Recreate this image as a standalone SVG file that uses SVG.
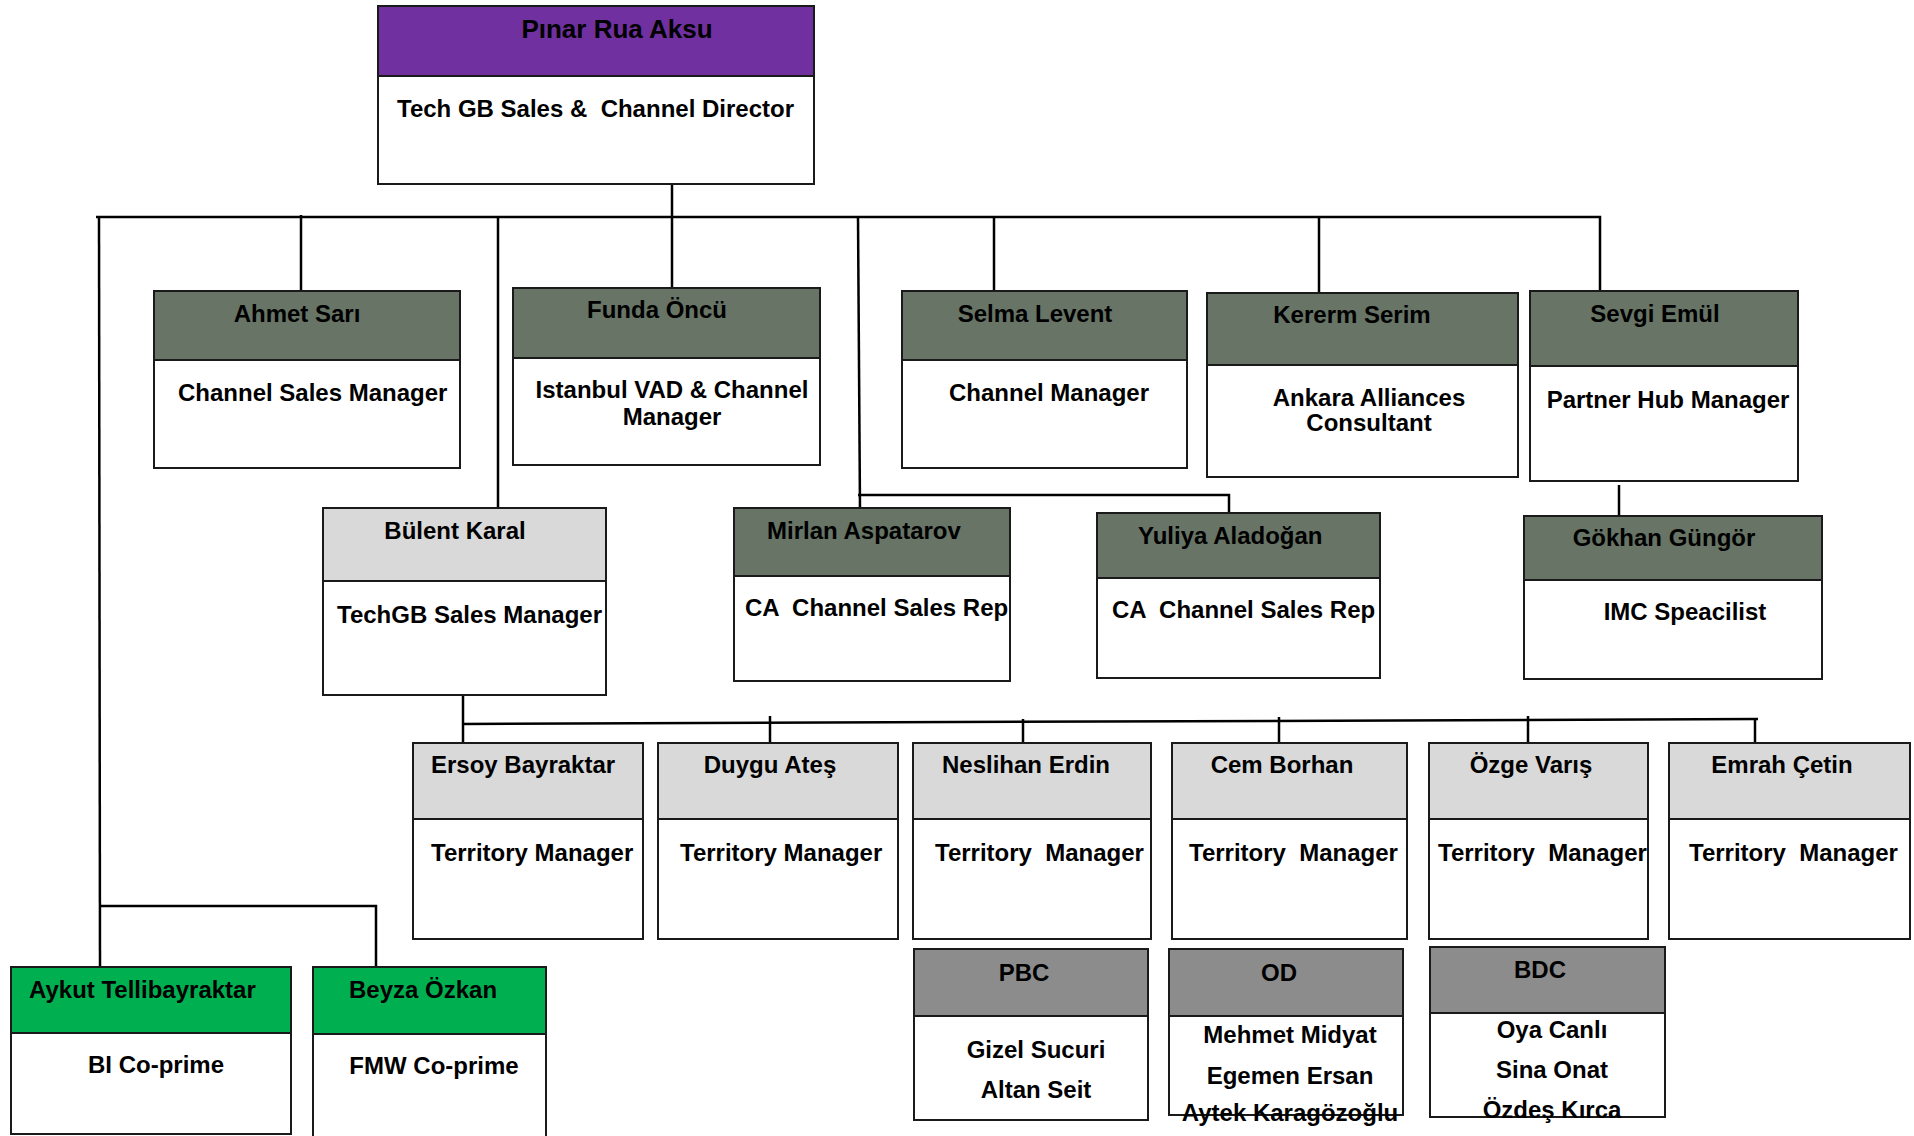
<svg xmlns="http://www.w3.org/2000/svg" width="1914" height="1136" viewBox="0 0 1914 1136">
<style>
text{font-family:"Liberation Sans",Arial,sans-serif;font-weight:bold;font-size:24px;fill:#000}
.m{text-anchor:middle}
.big{font-size:26px}
.box{fill:#fff;stroke:#1a1a1a;stroke-width:2}
.hd{stroke:#1a1a1a;stroke-width:2}
.purple{fill:#7030A0}
.olive{fill:#677466}
.lgrey{fill:#D9D9D9}
.mgrey{fill:#8C8C8C}
.green{fill:#00B050}
.conn line,.conn polyline{stroke:#000;stroke-width:2.5;fill:none}
</style>
<rect width="1914" height="1136" fill="#fff"/>
<g id="connectors" class="conn">
<line x1="672" y1="184" x2="672" y2="288"/>
<polyline points="96,217 1600,217 1600,291"/>
<line x1="301" y1="215" x2="301" y2="291"/>
<line x1="99" y1="217" x2="100" y2="967"/>
<polyline points="100,906 376,906 376,966"/>
<line x1="498" y1="217" x2="498" y2="508"/>
<line x1="858" y1="217" x2="860" y2="510"/>
<polyline points="858,495 1229,495 1229,513"/>
<line x1="994" y1="217" x2="994" y2="291"/>
<line x1="1319" y1="217" x2="1319" y2="293"/>
<line x1="1619" y1="485" x2="1619" y2="516"/>
<line x1="463" y1="695" x2="463" y2="745"/>
<line x1="463" y1="724" x2="1758" y2="719"/>
<line x1="770" y1="716" x2="770" y2="743"/>
<line x1="1023" y1="719" x2="1023" y2="743"/>
<line x1="1279" y1="717" x2="1279" y2="743"/>
<line x1="1528" y1="716" x2="1528" y2="743"/>
<line x1="1755" y1="719" x2="1755" y2="743"/>
</g>
<g id="pinar">
<rect class="box" x="378" y="6" width="436" height="178"/>
<rect class="hd purple" x="378" y="6" width="436" height="70"/>
<text class="m big" x="617" y="38">Pınar Rua Aksu</text>
<text x="397" y="117" xml:space="preserve">Tech GB Sales &amp;  Channel Director</text>
</g>
<g id="ahmet">
<rect class="box" x="154" y="291" width="306" height="177"/>
<rect class="hd olive" x="154" y="291" width="306" height="69"/>
<text class="m" x="297" y="322">Ahmet Sarı</text>
<text x="178" y="401">Channel Sales Manager</text>
</g>
<g id="funda">
<rect class="box" x="513" y="288" width="307" height="177"/>
<rect class="hd olive" x="513" y="288" width="307" height="70"/>
<text class="m" x="657" y="318">Funda Öncü</text>
<text class="m" x="672" y="398">Istanbul VAD &amp; Channel</text>
<text class="m" x="672" y="425">Manager</text>
</g>
<g id="selma">
<rect class="box" x="902" y="291" width="285" height="177"/>
<rect class="hd olive" x="902" y="291" width="285" height="69"/>
<text class="m" x="1035" y="322">Selma Levent</text>
<text class="m" x="1049" y="401">Channel Manager</text>
</g>
<g id="kererm">
<rect class="box" x="1207" y="293" width="311" height="184"/>
<rect class="hd olive" x="1207" y="293" width="311" height="72"/>
<text class="m" x="1352" y="323">Kererm Serim</text>
<text class="m" x="1369" y="406">Ankara Alliances</text>
<text class="m" x="1369" y="431">Consultant</text>
</g>
<g id="sevgi">
<rect class="box" x="1530" y="291" width="268" height="190"/>
<rect class="hd olive" x="1530" y="291" width="268" height="75"/>
<text class="m" x="1655" y="322">Sevgi Emül</text>
<text class="m" x="1668" y="408">Partner Hub Manager</text>
</g>
<g id="bulent">
<rect class="box" x="323" y="508" width="283" height="187"/>
<rect class="hd lgrey" x="323" y="508" width="283" height="73"/>
<text class="m" x="455" y="539">Bülent Karal</text>
<text x="337" y="623">TechGB Sales Manager</text>
</g>
<g id="mirlan">
<rect class="box" x="734" y="508" width="276" height="173"/>
<rect class="hd olive" x="734" y="508" width="276" height="68"/>
<text x="767" y="539">Mirlan Aspatarov</text>
<text x="745" y="616" xml:space="preserve">CA  Channel Sales Rep</text>
</g>
<g id="yuliya">
<rect class="box" x="1097" y="513" width="283" height="165"/>
<rect class="hd olive" x="1097" y="513" width="283" height="65"/>
<text x="1138" y="544">Yuliya Aladoğan</text>
<text x="1112" y="618" xml:space="preserve">CA  Channel Sales Rep</text>
</g>
<g id="gokhan">
<rect class="box" x="1524" y="516" width="298" height="163"/>
<rect class="hd olive" x="1524" y="516" width="298" height="64"/>
<text class="m" x="1664" y="546">Gökhan Güngör</text>
<text class="m" x="1685" y="620">IMC Speacilist</text>
</g>
<g id="ersoy">
<rect class="box" x="413" y="743" width="230" height="196"/>
<rect class="hd lgrey" x="413" y="743" width="230" height="76"/>
<text x="431" y="773">Ersoy Bayraktar</text>
<text x="431" y="861">Territory Manager</text>
</g>
<g id="duygu">
<rect class="box" x="658" y="743" width="240" height="196"/>
<rect class="hd lgrey" x="658" y="743" width="240" height="76"/>
<text class="m" x="770" y="773">Duygu Ateş</text>
<text x="680" y="861">Territory Manager</text>
</g>
<g id="neslihan">
<rect class="box" x="913" y="743" width="238" height="196"/>
<rect class="hd lgrey" x="913" y="743" width="238" height="76"/>
<text class="m" x="1026" y="773">Neslihan Erdin</text>
<text x="935" y="861" xml:space="preserve">Territory  Manager</text>
</g>
<g id="cem">
<rect class="box" x="1172" y="743" width="235" height="196"/>
<rect class="hd lgrey" x="1172" y="743" width="235" height="76"/>
<text class="m" x="1282" y="773">Cem Borhan</text>
<text x="1189" y="861" xml:space="preserve">Territory  Manager</text>
</g>
<g id="ozge">
<rect class="box" x="1429" y="743" width="219" height="196"/>
<rect class="hd lgrey" x="1429" y="743" width="219" height="76"/>
<text class="m" x="1531" y="773">Özge Varış</text>
<text x="1438" y="861" xml:space="preserve">Territory  Manager</text>
</g>
<g id="emrah">
<rect class="box" x="1669" y="743" width="241" height="196"/>
<rect class="hd lgrey" x="1669" y="743" width="241" height="76"/>
<text class="m" x="1782" y="773">Emrah Çetin</text>
<text x="1689" y="861" xml:space="preserve">Territory  Manager</text>
</g>
<g id="aykut">
<rect class="box" x="11" y="967" width="280" height="167"/>
<rect class="hd green" x="11" y="967" width="280" height="66"/>
<text x="29" y="998">Aykut Tellibayraktar</text>
<text class="m" x="156" y="1073">BI Co-prime</text>
</g>
<g id="beyza">
<rect class="box" x="313" y="967" width="233" height="175"/>
<rect class="hd green" x="313" y="967" width="233" height="67"/>
<text x="349" y="998">Beyza Özkan</text>
<text class="m" x="434" y="1074">FMW Co-prime</text>
</g>
<g id="pbc">
<rect class="box" x="914" y="949" width="234" height="171"/>
<rect class="hd mgrey" x="914" y="949" width="234" height="67"/>
<text class="m" x="1024" y="981">PBC</text>
<text class="m" x="1036" y="1058">Gizel Sucuri</text>
<text class="m" x="1036" y="1098">Altan Seit</text>
</g>
<g id="od">
<rect class="box" x="1169" y="949" width="234" height="166"/>
<rect class="hd mgrey" x="1169" y="949" width="234" height="67"/>
<text class="m" x="1279" y="981">OD</text>
<text class="m" x="1290" y="1043">Mehmet Midyat</text>
<text class="m" x="1290" y="1084">Egemen Ersan</text>
<text class="m" x="1290" y="1121">Aytek Karagözoğlu</text>
</g>
<g id="bdc">
<rect class="box" x="1430" y="947" width="235" height="170"/>
<rect class="hd mgrey" x="1430" y="947" width="235" height="66"/>
<text class="m" x="1540" y="978">BDC</text>
<text class="m" x="1552" y="1038">Oya Canlı</text>
<text class="m" x="1552" y="1078">Sina Onat</text>
<text class="m" x="1552" y="1118">Özdeş Kırca</text>
</g>
</svg>
